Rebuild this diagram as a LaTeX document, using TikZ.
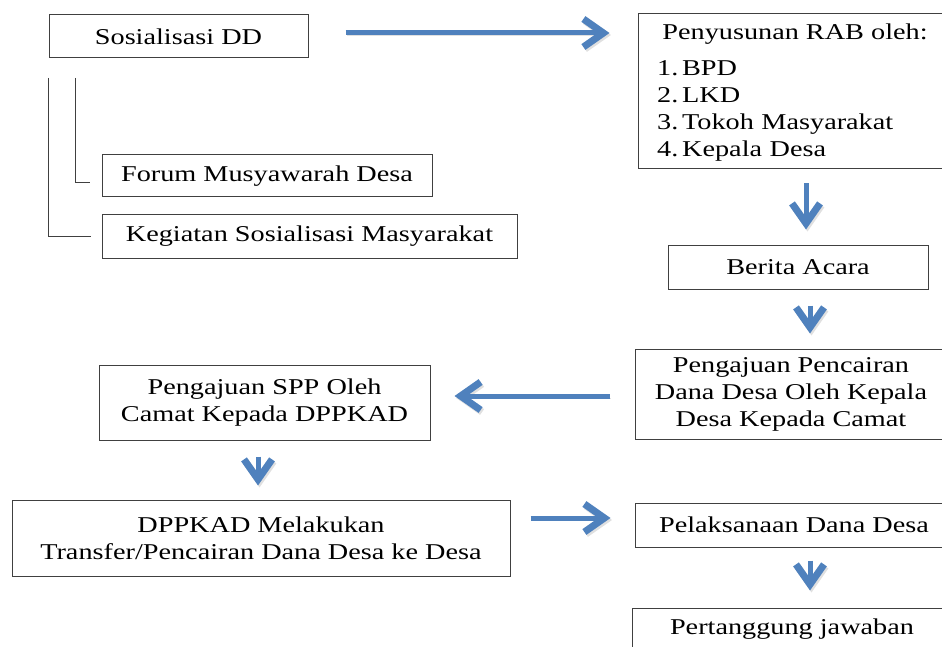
\documentclass[tikz,border=0pt]{standalone}
\usepackage{fontspec}
\setmainfont{Liberation Serif}[FakeStretch=1.25]
\usetikzlibrary{arrows.meta}
\definecolor{arrowblue}{HTML}{4F81BD}
\definecolor{boxline}{HTML}{404040}
\tikzset{
  box/.style={draw=boxline, line width=1pt, rectangle, inner sep=0pt, align=center,
    font=\fontsize{22.6}{27}\selectfont},
  txt/.style={inner sep=0pt, align=left, font=\fontsize{22.6}{27}\selectfont},
  bracketline/.style={draw=boxline, line width=1pt},
  arr/.style={draw=arrowblue, line width=5pt,
    -{Straight Barb[length=20pt,width=28pt,line width=7pt]},
    preaction={draw=black!35, opacity=0.35, transform canvas={shift={(1.5pt,-2pt)}}}}
}
\begin{document}
\begin{tikzpicture}[x=1pt,y=1pt]
\useasboundingbox (0,0) rectangle (942,-647);
\clip (0,0) rectangle (942,-647);
% left column top
\node[box, minimum width=259pt, minimum height=43pt] (sos) at (178.5,-36.5) {Sosialisasi DD};
\node[box, minimum width=330pt, minimum height=42pt] (forum) at (267,-176) {Forum Musyawarah Desa};
\node[box, minimum width=415pt, minimum height=43pt] (keg) at (309.5,-236.5) {Kegiatan Sosialisasi Masyarakat};
\coordinate (bo) at (48,-78);
\coordinate (bi) at (75,-78);
\draw[bracketline] (bo) |- ([xshift=-11pt]keg.west);
\draw[bracketline] (bi) |- ([xshift=-12pt,yshift=-7pt]forum.west);
% right column
\node[box, minimum width=314pt, minimum height=155pt] (rab) at (795,-91.5) {};
\node[txt, anchor=base] (rabt) at (795,-40) {Penyusunan RAB oleh:};
\node[txt, anchor=north west, text width=280pt] (rabl) at (657,-60) {1.\,BPD\\2.\,LKD\\3.\,Tokoh Masyarakat\\4.\,Kepala Desa};
\node[box, minimum width=260pt, minimum height=44pt] (berita) at (798,-267) {Berita Acara};
\node[box, minimum width=312pt, minimum height=90pt] (cair) at (791,-394) {Pengajuan Pencairan\\Dana Desa Oleh Kepala\\Desa Kepada Camat};
\node[box, minimum width=331pt, minimum height=75pt] (spp) at (264.5,-402.5) {Pengajuan SPP Oleh\\Camat Kepada DPPKAD};
\node[box, minimum width=498pt, minimum height=76pt] (dpp) at (261,-538) {DPPKAD Melakukan\\Transfer/Pencairan Dana Desa ke Desa};
\node[box, minimum width=318pt, minimum height=44pt] (pel) at (794,-525) {Pelaksanaan Dana Desa};
\node[box, minimum width=320pt, minimum height=60pt] (pert) at (792,-638) {};
\node[txt, anchor=base] (pertt) at (792,-634) {Pertanggung jawaban};
% arrows
\draw[arr, shorten <=37pt, shorten >=28pt] (sos.east |- 0,-33) -- (rab.west |- 0,-33);
\draw[arr, shorten <=14pt, shorten >=15pt] (806,0 |- rab.south) -- (806,0 |- berita.north);
\draw[arr, shorten <=16pt, shorten >=15pt] (810,0 |- berita.south) -- (810,0 |- cair.north);
\draw[arr, shorten <=25pt, shorten >=24pt] (cair.west |- 0,-396) -- (spp.east |- 0,-396);
\draw[arr, shorten <=16pt, shorten >=14pt] (258,0 |- spp.south) -- (258,0 |- dpp.north);
\draw[arr, shorten <=20pt, shorten >=24pt] (dpp.east |- 0,-518) -- (pel.west |- 0,-518);
\draw[arr, shorten <=13pt, shorten >=17pt] (810,0 |- pel.south) -- (810,0 |- pert.north);
\end{tikzpicture}
\end{document}
